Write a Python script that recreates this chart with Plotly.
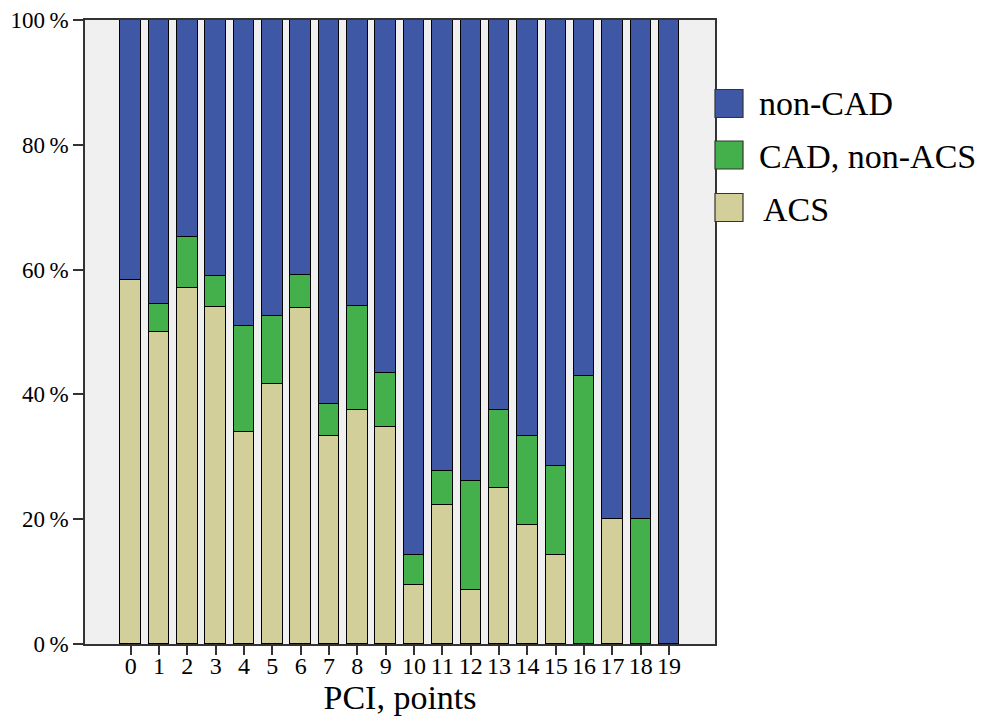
import plotly.graph_objects as go

pci = [str(i) for i in range(20)]
acs = [58.3, 50.0, 57.1, 54.0, 34.0, 41.7, 53.8, 33.3, 37.5, 34.8, 9.5, 22.2, 8.7, 25.0, 19.0, 14.3, 0.0, 20.0, 0.0, 0.0]
cad_non_acs = [0.0, 4.5, 8.1, 5.0, 17.0, 10.9, 5.4, 5.1, 16.7, 8.7, 4.8, 5.6, 17.4, 12.5, 14.3, 14.3, 42.9, 0.0, 20.0, 0.0]
non_cad = [round(100 - a - c, 1) for a, c in zip(acs, cad_non_acs)]

y_ticks = [0, 20, 40, 60, 80, 100]
y_tick_text = [f"{v}\u2009%" for v in y_ticks]

colors = {"non-CAD": "#3f58a6", "CAD, non-ACS": "#44b04c", "ACS": "#d3cf9a"}
font = "Liberation Serif"

x_idx = list(range(len(pci)))
fig = go.Figure()
for name, vals in [("ACS", acs), ("CAD, non-ACS", cad_non_acs), ("non-CAD", non_cad)]:
    fig.add_trace(go.Bar(x=x_idx, y=vals, name=name, width=0.72,
                         marker=dict(color=colors[name], line=dict(color="black", width=1.5)),
                         showlegend=False))

# Legend drawn in paper coordinates
legend_items = ["non-CAD", "CAD, non-ACS", "ACS"]
swatch_y = [103.5, 155, 207.5]
text_y = [104, 156, 209]
text_x = [757, 757, 761]
plot_left, plot_w = 85, 630
plot_top, plot_bot = 20, 644
ph = plot_bot - plot_top
for name, yp in zip(legend_items, swatch_y):
    fig.add_shape(type="rect", xref="paper", yref="paper",
                  x0=(715 - plot_left) / plot_w, x1=(743 - plot_left) / plot_w,
                  y0=(plot_bot - (yp + 14)) / ph, y1=(plot_bot - (yp - 14)) / ph,
                  fillcolor=colors[name], line=dict(color="#333333", width=1.2))
for name, yp, tx in zip(legend_items, text_y, text_x):
    fig.add_annotation(xref="paper", yref="paper", x=(tx - plot_left) / plot_w,
                       y=(plot_bot - yp) / ph,
                       text=name, showarrow=False, xanchor="left", yanchor="middle",
                       font=dict(family=font, size=34, color="black"))

fig.update_layout(
    width=981, height=718,
    barmode="stack", bargap=0,
    paper_bgcolor="white", plot_bgcolor="#f0f0f0",
    margin=dict(l=85, r=266, t=20, b=74),
    font=dict(family=font, color="black"),
    xaxis=dict(range=[-1.61, 20.62], tickmode="array", tickvals=x_idx, ticktext=pci,
               ticks="outside", ticklen=9, tickwidth=1.5, tickcolor="#333",
               showline=True, linecolor="#333", linewidth=1.5, mirror=True,
               showgrid=False, zeroline=False, tickfont=dict(size=24), automargin=False,
               ticklabelstandoff=-10,
               title=dict(text="PCI, points", font=dict(size=34), standoff=4)),
    yaxis=dict(range=[0, 100], tickmode="array", tickvals=y_ticks, ticktext=y_tick_text,
               ticks="outside", ticklen=10, tickwidth=1.5, tickcolor="#333",
               showline=True, linecolor="#333", linewidth=1.5, mirror=True,
               showgrid=False, zeroline=False, tickfont=dict(size=23), automargin=False),
)

fig.write_html("out.html", config={"displayModeBar": False},
               post_script="document.body.style.margin='0';document.body.style.overflow='hidden';")
